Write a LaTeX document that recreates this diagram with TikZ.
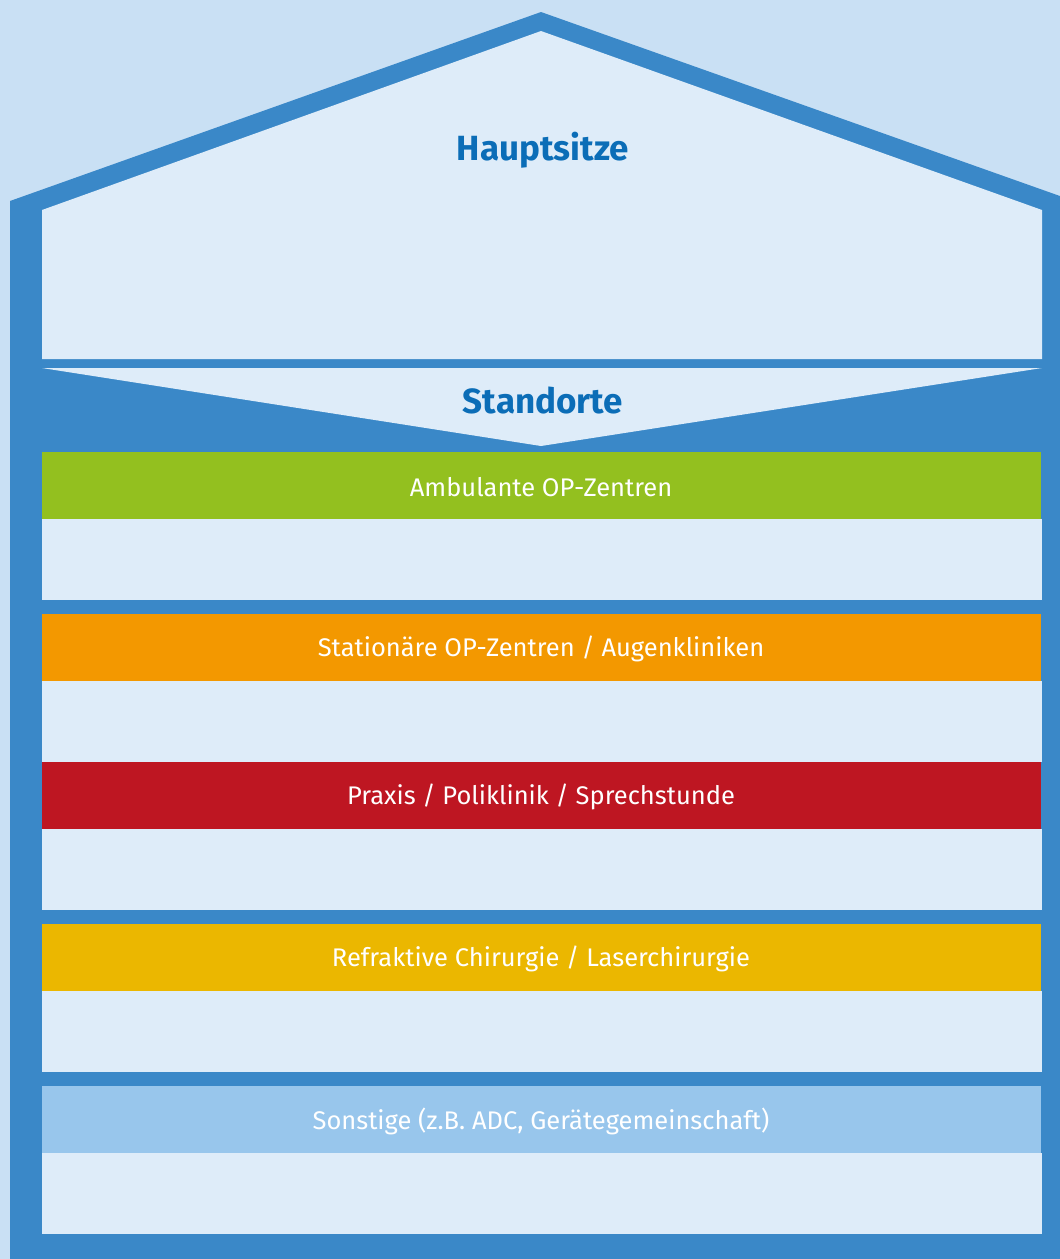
\documentclass[tikz,border=0pt]{standalone}
\usepackage{fontspec}
\setmainfont{Fira Sans}
\definecolor{skybg}{HTML}{C9E0F4}
\definecolor{wallblue}{HTML}{3A88C8}
\definecolor{panel}{HTML}{DEECF9}
\definecolor{titleblue}{HTML}{0B6DB7}
\definecolor{cgreen}{HTML}{93C01F}
\definecolor{corange}{HTML}{F39800}
\definecolor{cred}{HTML}{BE1622}
\definecolor{cyellow}{HTML}{EBB700}
\definecolor{clight}{HTML}{98C6EC}
\tikzset{
  title/.style={text=titleblue, font=\fontsize{35}{38}\selectfont\bfseries, inner sep=0pt},
  bandlabel/.style={text=white, font=\fontsize{25.5}{30}\selectfont, inner sep=0pt},
}
% one category: top edge, colour, node name, label
\newcommand\categoryrow[4]{%
  \fill[#2] (42,#1) rectangle (1041,#1+67);
  \fill[panel] (42,#1+67) rectangle (1042,#1+148);
  \node[bandlabel] (#3) at (541,#1+35) {#4};
}
\begin{document}
\begin{tikzpicture}[x=1pt,y=-1pt]
\useasboundingbox (0,0) rectangle (1060,1259);
\clip (0,0) rectangle (1060,1259);
\fill[skybg] (0,0) rectangle (1060,1259);
% house body with roof
\fill[wallblue] (10,1260) -- (10,201) -- (541,12) -- (1074,201) -- (1074,1260) -- cycle;
% head office panel under the roof
\fill[panel] (42,210) -- (541,31) -- (1042,210) -- (1042,359) -- (42,359) -- cycle;
% downward chevron for the sites
\fill[panel] (42,368) -- (1042,368) -- (541,446) -- cycle;
\node[title] (haupt) at (543,150) {Hauptsitze};
\node[title] (stand) at (543,401) {Standorte};
% category bands
\categoryrow{452}{cgreen}{amb}{Ambulante OP-Zentren}
\categoryrow{614}{corange}{stat}{Stationäre OP-Zentren / Augenkliniken}
\categoryrow{762}{cred}{prax}{Praxis / Poliklinik / Sprechstunde}
\categoryrow{924}{cyellow}{refr}{Refraktive Chirurgie / Laserchirurgie}
\categoryrow{1086}{clight}{sons}{Sonstige (z.B. ADC, Gerätegemeinschaft)}
\end{tikzpicture}
\end{document}
